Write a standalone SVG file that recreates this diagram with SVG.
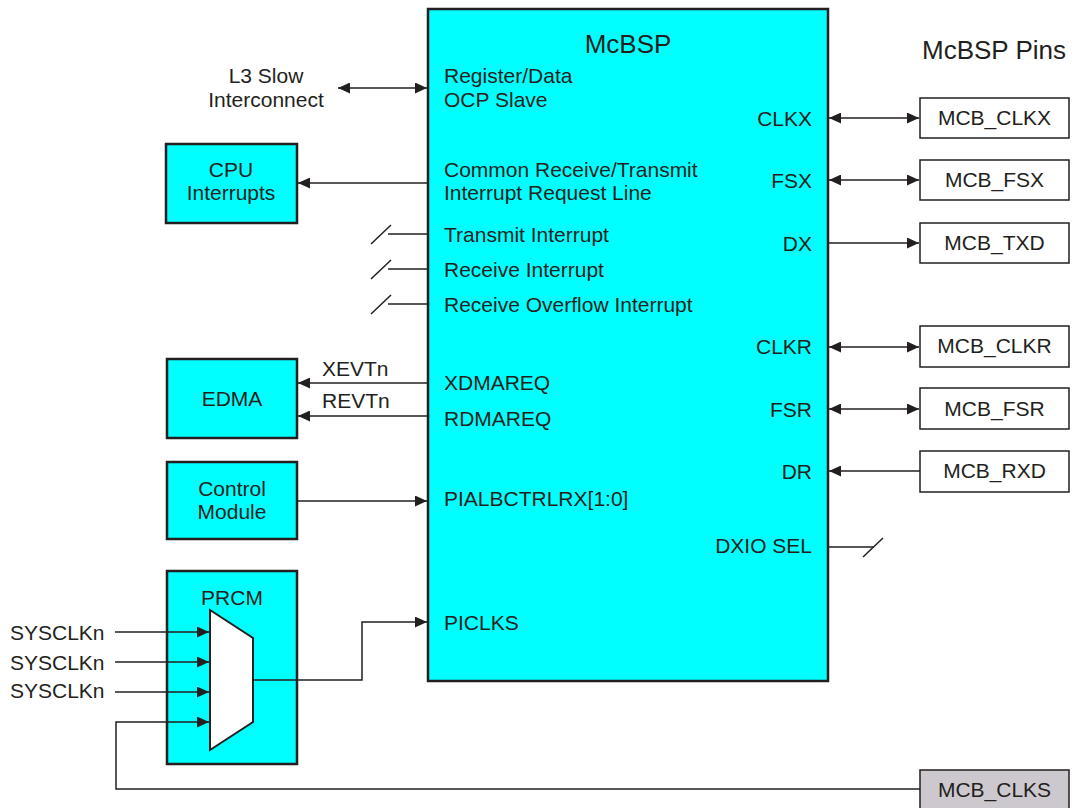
<svg xmlns="http://www.w3.org/2000/svg" width="1075" height="808" viewBox="0 0 1075 808">
<style>
text{font-family:"Liberation Sans",Arial,sans-serif;font-size:21px;fill:#231f20}
.t26{font-size:26px}
.mid{text-anchor:middle}
.end{text-anchor:end}
.blk{fill:#00ffff;stroke:#231f20;stroke-width:2.5}
.pin{fill:#ffffff;stroke:#231f20;stroke-width:1.5}
.pin2{fill:#cdc8cd;stroke:#231f20;stroke-width:1.5}
.ln{fill:none;stroke:#231f20;stroke-width:1.5}
.ar{marker-end:url(#ah)}
.dar{marker-end:url(#ah);marker-start:url(#ah)}
</style>
<defs>
<marker id="ah" markerUnits="userSpaceOnUse" markerWidth="13" markerHeight="11" refX="12" refY="5.5" orient="auto-start-reverse">
<path d="M0,0 L12,5.5 L0,11 z" fill="#231f20"/>
</marker>
</defs>
<rect width="1075" height="808" fill="#ffffff"/>

<g id="mcbsp">
<rect class="blk" x="428" y="9" width="400" height="672"/>
<text class="t26 mid" x="628" y="53">McBSP</text>
<text x="444" y="83">Register/Data</text>
<text x="444" y="107">OCP Slave</text>
<text x="444" y="177">Common Receive/Transmit</text>
<text x="444" y="200">Interrupt Request Line</text>
<text x="444" y="242">Transmit Interrupt</text>
<text x="444" y="277">Receive Interrupt</text>
<text x="444" y="312">Receive Overflow Interrupt</text>
<text x="444" y="390">XDMAREQ</text>
<text x="444" y="426">RDMAREQ</text>
<text x="444" y="506">PIALBCTRLRX[1:0]</text>
<text x="444" y="630">PICLKS</text>
<text class="end" x="812" y="126">CLKX</text>
<text class="end" x="812" y="188">FSX</text>
<text class="end" x="812" y="251">DX</text>
<text class="end" x="812" y="354">CLKR</text>
<text class="end" x="812" y="417">FSR</text>
<text class="end" x="812" y="479">DR</text>
<text class="end" x="812" y="553">DXIO SEL</text>
</g>

<g id="l3">
<text class="mid" x="266" y="83">L3 Slow</text>
<text class="mid" x="266" y="107">Interconnect</text>
</g>

<g id="cpu">
<rect class="blk" x="166" y="144" width="131" height="79"/>
<text class="mid" x="231" y="177">CPU</text>
<text class="mid" x="231" y="200">Interrupts</text>
</g>

<g id="edma">
<rect class="blk" x="167" y="359" width="130" height="79"/>
<text class="mid" x="232" y="406">EDMA</text>
</g>

<g id="control">
<rect class="blk" x="167" y="462" width="130" height="77"/>
<text class="mid" x="232" y="496">Control</text>
<text class="mid" x="232" y="519">Module</text>
</g>

<g id="prcm">
<rect class="blk" x="167" y="571" width="130" height="193"/>
<text class="mid" x="232" y="605">PRCM</text>
<polygon points="210,610 253,638 253,722 210,750" fill="#ffffff" stroke="#231f20" stroke-width="2"/>
</g>

<g id="sysclk">
<text x="10" y="640">SYSCLKn</text>
<text x="10" y="670">SYSCLKn</text>
<text x="10" y="698">SYSCLKn</text>
</g>

<g id="pins-title">
<text class="t26" x="922" y="59">McBSP Pins</text>
</g>

<g id="pin-clkx">
<rect class="pin" x="920" y="98" width="149" height="40"/>
<text class="mid" x="994.5" y="125">MCB_CLKX</text>
</g>
<g id="pin-fsx">
<rect class="pin" x="920" y="160" width="149" height="40"/>
<text class="mid" x="994.5" y="187">MCB_FSX</text>
</g>
<g id="pin-txd">
<rect class="pin" x="920" y="223" width="149" height="40"/>
<text class="mid" x="994.5" y="250">MCB_TXD</text>
</g>
<g id="pin-clkr">
<rect class="pin" x="920" y="326" width="149" height="41"/>
<text class="mid" x="994.5" y="353">MCB_CLKR</text>
</g>
<g id="pin-fsr">
<rect class="pin" x="920" y="388" width="149" height="41"/>
<text class="mid" x="994.5" y="416">MCB_FSR</text>
</g>
<g id="pin-rxd">
<rect class="pin" x="920" y="451" width="149" height="41"/>
<text class="mid" x="994.5" y="478">MCB_RXD</text>
</g>
<g id="pin-clks">
<rect class="pin2" x="920" y="770" width="149" height="45"/>
<text class="mid" x="994.5" y="797">MCB_CLKS</text>
</g>

<g id="connectors">
<line class="ln dar" x1="338" y1="88" x2="427" y2="88"/>
<line class="ln ar" x1="428" y1="183" x2="298" y2="183"/>
<line class="ln" x1="388" y1="234" x2="428" y2="234"/>
<line class="ln" x1="371" y1="244" x2="391" y2="225"/>
<line class="ln" x1="388" y1="269" x2="428" y2="269"/>
<line class="ln" x1="371" y1="279" x2="391" y2="260"/>
<line class="ln" x1="388" y1="304" x2="428" y2="304"/>
<line class="ln" x1="371" y1="314" x2="391" y2="295"/>
<text x="322" y="376">XEVTn</text>
<line class="ln ar" x1="428" y1="383" x2="298" y2="383"/>
<text x="322" y="408">REVTn</text>
<line class="ln ar" x1="428" y1="416" x2="298" y2="416"/>
<line class="ln ar" x1="297" y1="501" x2="427" y2="501"/>
<polyline class="ln ar" points="253,680 362,680 362,622 427,622"/>
<line class="ln ar" x1="115" y1="632" x2="209" y2="632"/>
<line class="ln ar" x1="115" y1="662" x2="209" y2="662"/>
<line class="ln ar" x1="115" y1="692" x2="209" y2="692"/>
<polyline class="ln ar" points="920,789 116,789 116,722 209,722"/>
<line class="ln dar" x1="829" y1="118" x2="919" y2="118"/>
<line class="ln dar" x1="829" y1="180" x2="919" y2="180"/>
<line class="ln ar" x1="828" y1="243" x2="919" y2="243"/>
<line class="ln dar" x1="829" y1="347" x2="919" y2="347"/>
<line class="ln dar" x1="829" y1="409" x2="919" y2="409"/>
<line class="ln ar" x1="920" y1="471" x2="829" y2="471"/>
<line class="ln" x1="828" y1="547" x2="874" y2="547"/>
<line class="ln" x1="863" y1="557" x2="883" y2="538"/>
</g>
</svg>
